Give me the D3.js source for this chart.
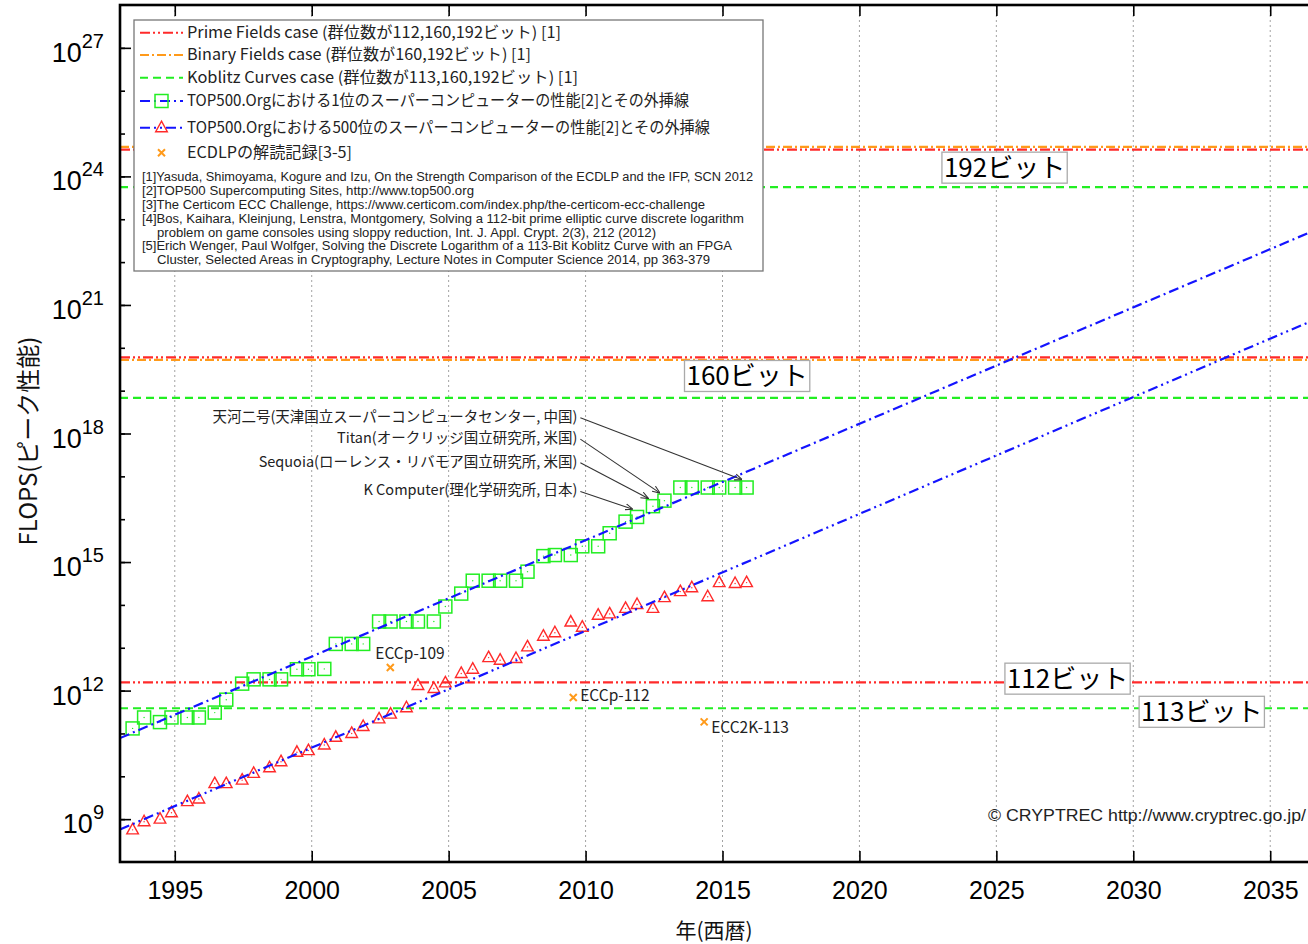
<!DOCTYPE html>
<html lang="ja">
<head>
<meta charset="utf-8">
<title>ECDLP と TOP500 の性能推移</title>
<script src="https://d3js.org/d3.v7.min.js"></script>
<style>
  body { margin: 0; background: #fff; }
  svg { font-family: "Noto Sans CJK JP", "Noto Sans", sans-serif; }
</style>
</head>
<body>
<svg width="1308" height="944"></svg>
<script>
// ---- data ----
const listDates = ["1993/06","1993/11","1994/06","1994/11","1995/06","1995/11","1996/06","1996/11",
  "1997/06","1997/11","1998/06","1998/11","1999/06","1999/11","2000/06","2000/11","2001/06","2001/11",
  "2002/06","2002/11","2003/06","2003/11","2004/06","2004/11","2005/06","2005/11","2006/06","2006/11",
  "2007/06","2007/11","2008/06","2008/11","2009/06","2009/11","2010/06","2010/11","2011/06","2011/11",
  "2012/06","2012/11","2013/06","2013/11","2014/06","2014/11","2015/06","2015/11"];

// peak GFLOPS of the #1 system
const top1Gflops = [131, 236, 184, 236, 236, 236, 307, 614,
  1453, 1830, 1830, 1830, 3154, 3154, 3207, 12288, 12288, 12288,
  40960, 40960, 40960, 40960, 40960, 91750, 183500, 367000, 367000, 367000,
  367000, 596378, 1375776, 1456704, 1456704, 2331000, 2331000, 4701000, 8773630, 11280384,
  20132659, 27112550, 54902400, 54902400, 54902400, 54902400, 54902400, 54902400];

// peak GFLOPS of the #500 system
const top500Gflops = [0.562, 0.871, 1.0, 1.41, 2.57, 2.95, 6.76, 6.76,
  8.13, 11.7, 15.8, 21.9, 36.3, 39.8, 53.7, 81.3, 100, 145,
  219, 282, 398, 1318, 1122, 1514, 2512, 3162, 5888, 5129,
  5623, 10470, 18620, 22390, 39810, 30200, 57540, 61660, 83180, 102300,
  83180, 147900, 204200, 251200, 154900, 331100, 316200, 331100];

const fitYears = [1993, 2037];
const top1FitFlops = [7.8e10, 7.0e22];
const top500FitFlops = [5.75e8, 5.75e20];

const primeFields = [{bits: 112, flops: 1.56e12}, {bits: 160, flops: 6.0e19}, {bits: 192, flops: 4.2e24}];
const binaryFields = [{bits: 160, flops: 5.2e19}, {bits: 192, flops: 4.9e24}];
const koblitzCurves = [{bits: 113, flops: 3.87e11}, {bits: 160, flops: 6.8e18}, {bits: 192, flops: 5.6e23}];

const ecdlpRecords = [
  {name: "ECCp-109", year: 2002.87, flops: 3.47e12},
  {name: "ECCp-112", year: 2009.55, flops: 6.9e11},
  {name: "ECC2K-113", year: 2014.33, flops: 1.86e11}
];

const bitLabels = [
  {text: "192ビット", year: 2025.3, flops: 1.6e24},
  {text: "160ビット", year: 2015.9, flops: 2.2e19},
  {text: "112ビット", year: 2027.6, flops: 1.9e12},
  {text: "113ビット", year: 2032.5, flops: 3.2e11}
];

const machineNotes = [
  {text: "天河二号(天津国立スーパーコンピュータセンター, 中国)", target: "2015/11", flops: 2.45e18},
  {text: "Titan(オークリッジ国立研究所, 米国)", target: "2012/11", flops: 7.8e17},
  {text: "Sequoia(ローレンス・リバモア国立研究所, 米国)", target: "2012/06", flops: 2.2e17},
  {text: "K Computer(理化学研究所, 日本)", target: "2011/11", flops: 4.7e16}
];

const legendItems = ["Prime Fields case (群位数が112,160,192ビット) [1]",
  "Binary Fields case (群位数が160,192ビット) [1]",
  "Koblitz Curves case (群位数が113,160,192ビット) [1]",
  "TOP500.Orgにおける1位のスーパーコンピューターの性能[2]とその外挿線",
  "TOP500.Orgにおける500位のスーパーコンピューターの性能[2]とその外挿線",
  "ECDLPの解読記録[3-5]"];

const references = [
  {t: "[1]Yasuda, Shimoyama, Kogure and Izu, On the Strength Comparison of the ECDLP and the IFP, SCN 2012", indent: false},
  {t: "[2]TOP500 Supercomputing Sites, http://www.top500.org", indent: false},
  {t: "[3]The Certicom ECC Challenge, https://www.certicom.com/index.php/the-certicom-ecc-challenge", indent: false},
  {t: "[4]Bos, Kaihara, Kleinjung, Lenstra, Montgomery, Solving a 112-bit prime elliptic curve discrete logarithm", indent: false},
  {t: "problem on game consoles using sloppy reduction, Int. J. Appl. Crypt. 2(3), 212 (2012)", indent: true},
  {t: "[5]Erich Wenger, Paul Wolfger, Solving the Discrete Logarithm of a 113-Bit Koblitz Curve with an FPGA", indent: false},
  {t: "Cluster, Selected Areas in Cryptography, Lecture Notes in Computer Science 2014, pp 363-379", indent: true}
];

const xTicks = [1995, 2000, 2005, 2010, 2015, 2020, 2025, 2030, 2035];
const yMajorExp = [9, 12, 15, 18, 21, 24, 27];
const yMinorExp = d3.range(9, 28);

// text widths measured on the reference (layout only)
const legendWidths = [374, 344, 391, 502, 523, 165];
const refWidths = [611, 332, 563, 602, 499, 590, 553];

// ---- setup ----
const svg = d3.select("svg");
const x = d3.scaleLinear().domain([1993, 2037]).range([120, 1325]);
const y = d3.scaleLog().domain([1e8, 1e28]).range([862, 5]);
const toYear = s => { const p = s.split("/").map(Number); return p[0] + (p[1] === 6 ? 0.46 : 0.88); };

const RED = "#ff2a2a", ORANGE = "#ff9a1a", GREEN = "#22ee22", BLUE = "#1414ff";
const dashPrime = "10,3,2,3,2,3", dashBinary = "9,3,2,3", dashKoblitz = "8,5";
const dashTop1 = "10,4,2,4", dashTop500 = "10,4,2,4,2,4";
const LATIN = "Liberation Sans, Arial, sans-serif";

svg.append("defs").append("clipPath").attr("id", "plotclip")
  .append("rect").attr("x", 120).attr("y", 5).attr("width", 1205).attr("height", 857);
svg.select("defs").append("marker").attr("id", "arrow")
  .attr("viewBox", "0 0 10 10").attr("refX", 9).attr("refY", 5)
  .attr("markerWidth", 7).attr("markerHeight", 7).attr("orient", "auto-start-reverse")
  .append("path").attr("d", "M0,1L10,5L0,9").attr("fill", "none").attr("stroke", "#333").attr("stroke-width", 1.4);

// grid
svg.append("g").selectAll("line").data(xTicks).join("line")
  .attr("x1", d => x(d)).attr("x2", d => x(d)).attr("y1", y(1e28)).attr("y2", y(1e8))
  .attr("stroke", "#999").attr("stroke-width", 0.9).attr("stroke-dasharray", "2,3");

const plot = svg.append("g").attr("clip-path", "url(#plotclip)");

function hLines(data, color, dash) {
  plot.append("g").selectAll("line").data(data).join("line")
    .attr("x1", x(1993)).attr("x2", x(2037))
    .attr("y1", d => y(d.flops)).attr("y2", d => y(d.flops))
    .attr("stroke", color).attr("stroke-width", 2.2).attr("stroke-dasharray", dash);
}
hLines(binaryFields, ORANGE, dashBinary);
hLines(primeFields, RED, dashPrime);
hLines(koblitzCurves, GREEN, dashKoblitz);

const line = d3.line().x(d => x(d[0])).y(d => y(d[1]));

// markers
const tri = "M0,-6.5L5.8,4L-5.8,4Z";
const top1 = listDates.map((d, i) => ({year: toYear(d), flops: top1Gflops[i] * 1e9, key: d}));
const top500 = listDates.map((d, i) => ({year: toYear(d), flops: top500Gflops[i] * 1e9}));

const sq = plot.append("g").selectAll("g").data(top1).join("g")
  .attr("transform", d => `translate(${x(d.year)},${y(d.flops)})`);
sq.append("rect").attr("x", -6.5).attr("y", -6.5).attr("width", 13).attr("height", 13)
  .attr("fill", "none").attr("stroke", GREEN).attr("stroke-width", 1.5);
sq.append("circle").attr("r", 0.7).attr("fill", GREEN);

const tr = plot.append("g").selectAll("g").data(top500).join("g")
  .attr("transform", d => `translate(${x(d.year)},${y(d.flops)})`);
tr.append("path").attr("d", tri).attr("fill", "none").attr("stroke", RED).attr("stroke-width", 1.4);
tr.append("circle").attr("r", 0.7).attr("fill", RED);

plot.append("path").datum(fitYears.map((yr, i) => [yr, top1FitFlops[i]])).attr("d", line)
  .attr("fill", "none").attr("stroke", BLUE).attr("stroke-width", 2.2).attr("stroke-dasharray", dashTop1);
plot.append("path").datum(fitYears.map((yr, i) => [yr, top500FitFlops[i]])).attr("d", line)
  .attr("fill", "none").attr("stroke", BLUE).attr("stroke-width", 2.2).attr("stroke-dasharray", dashTop500);

const xMark = "M-3.5,-3.5L3.5,3.5M-3.5,3.5L3.5,-3.5";
const ec = plot.append("g").selectAll("g").data(ecdlpRecords).join("g")
  .attr("transform", d => `translate(${x(d.year)},${y(d.flops)})`);
ec.append("path").attr("d", xMark).attr("stroke", ORANGE).attr("stroke-width", 2);
ec.append("text").text(d => d.name)
  .attr("x", (d, i) => i === 0 ? -15 : 7).attr("y", (d, i) => i === 0 ? -14 : (i === 2 ? 6 : -2))
  .attr("dy", "0.35em").attr("font-size", 15.5).attr("fill", "#222");

// annotations with arrows
const note = svg.append("g");
machineNotes.forEach(n => {
  const t = top1.find(d => d.key === n.target);
  const ly = y(n.flops);
  note.append("text").text(n.text).attr("x", x(2009.7)).attr("y", ly).attr("dy", "0.35em")
    .attr("text-anchor", "end").attr("font-size", 14.5).attr("fill", "#222");
  note.append("line").attr("x1", x(2009.7) + 3).attr("y1", ly + 1)
    .attr("x2", x(t.year) - 5).attr("y2", y(t.flops) - 8)
    .attr("stroke", "#333").attr("stroke-width", 1.1).attr("marker-end", "url(#arrow)");
});

// frame and ticks
svg.append("rect").attr("x", 120).attr("y", 5).attr("width", 1205).attr("height", 857)
  .attr("fill", "none").attr("stroke", "#000").attr("stroke-width", 2.6);

const xb = svg.append("g").attr("transform", "translate(0,862)")
  .call(d3.axisBottom(x).tickValues(xTicks).tickSize(-11).tickPadding(19).tickFormat(d3.format("d")));
xb.select(".domain").remove();
xb.selectAll("line").attr("stroke-width", 1.6);
xb.selectAll("text").attr("font-family", LATIN).attr("font-size", 25).attr("fill", "#000");

const xt = svg.append("g").attr("transform", "translate(0,5)")
  .call(d3.axisTop(x).tickValues(xTicks).tickSize(-11).tickFormat(""));
xt.select(".domain").remove();
xt.selectAll("line").attr("stroke-width", 1.6);

const yMinor = svg.append("g").attr("transform", "translate(120,0)")
  .call(d3.axisLeft(y).tickValues(yMinorExp.map(e => Math.pow(10, e))).tickSize(-5).tickFormat(""));
yMinor.select(".domain").remove();
yMinor.selectAll("line").attr("stroke-width", 1.6);
const yMajor = svg.append("g").attr("transform", "translate(120,0)")
  .call(d3.axisLeft(y).tickValues(yMajorExp.map(e => Math.pow(10, e))).tickSize(-11).tickFormat(""));
yMajor.select(".domain").remove();
yMajor.selectAll("line").attr("stroke-width", 1.6);

const yl = svg.append("g").selectAll("text").data(yMajorExp).join("text")
  .attr("x", 104).attr("y", e => y(Math.pow(10, e)) + 14).attr("text-anchor", "end")
  .attr("font-family", LATIN).attr("fill", "#000");
yl.append("tspan").text("10").attr("font-size", 27);
yl.append("tspan").text(e => e).attr("font-size", 20).attr("dy", -14);

svg.append("text").text("FLOPS(ピーク性能)")
  .attr("transform", "translate(29,441) rotate(-90)").attr("text-anchor", "middle").attr("dy", "0.35em")
  .attr("font-size", 24).attr("fill", "#111");
svg.append("text").text("年(西暦)").attr("x", 714).attr("y", 931).attr("text-anchor", "middle")
  .attr("dy", "0.35em").attr("font-size", 21).attr("fill", "#111");

// bit labels
bitLabels.forEach(b => {
  const g = svg.append("g");
  const t = g.append("text").text(b.text).attr("x", x(b.year)).attr("y", y(b.flops))
    .attr("text-anchor", "middle").attr("dy", "0.36em").attr("font-size", 26).attr("fill", "#000");
  const bb = t.node().getBBox();
  g.insert("rect", "text").attr("x", bb.x - 2).attr("y", y(b.flops) - 15.5)
    .attr("width", bb.width + 4).attr("height", 31)
    .attr("fill", "#fff").attr("stroke", "#aaa").attr("stroke-width", 1.3);
});

svg.append("text").text("© CRYPTREC http://www.cryptrec.go.jp/").attr("x", 988).attr("y", 821)
  .attr("font-family", LATIN).attr("font-size", 16.5).attr("textLength", 318)
  .attr("lengthAdjust", "spacingAndGlyphs").attr("fill", "#222");

// legend
const lg = svg.append("g");
lg.append("rect").attr("x", 134).attr("y", 20).attr("width", 629).attr("height", 251)
  .attr("fill", "#fff").attr("stroke", "#777").attr("stroke-width", 1.3);
const rowY = [32.7, 55, 77.7, 101, 127.7, 152.7];
const sampleStyles = [[RED, dashPrime], [ORANGE, dashBinary], [GREEN, dashKoblitz], [BLUE, dashTop1], [BLUE, dashTop500], null];
sampleStyles.forEach((s, i) => {
  if (s) lg.append("line").attr("x1", 140).attr("x2", 183).attr("y1", rowY[i]).attr("y2", rowY[i])
    .attr("stroke", s[0]).attr("stroke-width", 2).attr("stroke-dasharray", s[1]);
});
lg.append("rect").attr("x", 155).attr("y", rowY[3] - 6.5).attr("width", 13).attr("height", 13)
  .attr("fill", "none").attr("stroke", GREEN).attr("stroke-width", 1.5);
lg.append("path").attr("d", tri).attr("transform", `translate(161.5,${rowY[4]})`)
  .attr("fill", "none").attr("stroke", RED).attr("stroke-width", 1.4);
lg.append("path").attr("d", xMark).attr("transform", `translate(161.5,${rowY[5]})`)
  .attr("stroke", ORANGE).attr("stroke-width", 2);
lg.selectAll("text.item").data(legendItems).join("text").attr("class", "item")
  .text(d => d).attr("x", 187).attr("y", (d, i) => rowY[i]).attr("dy", "0.35em")
  .attr("font-size", 15.5).attr("textLength", (d, i) => legendWidths[i])
  .attr("lengthAdjust", "spacingAndGlyphs").attr("fill", "#222");
lg.selectAll("text.ref").data(references).join("text").attr("class", "ref")
  .text(d => d.t).attr("x", d => d.indent ? 157 : 142).attr("y", (d, i) => 176.7 + i * 13.9)
  .attr("dy", "0.35em").attr("font-family", "Liberation Sans Narrow, Liberation Sans, Arial, sans-serif")
  .attr("font-size", 12).attr("textLength", (d, i) => refWidths[i])
  .attr("lengthAdjust", "spacingAndGlyphs").attr("fill", "#222");
</script>
</body>
</html>
